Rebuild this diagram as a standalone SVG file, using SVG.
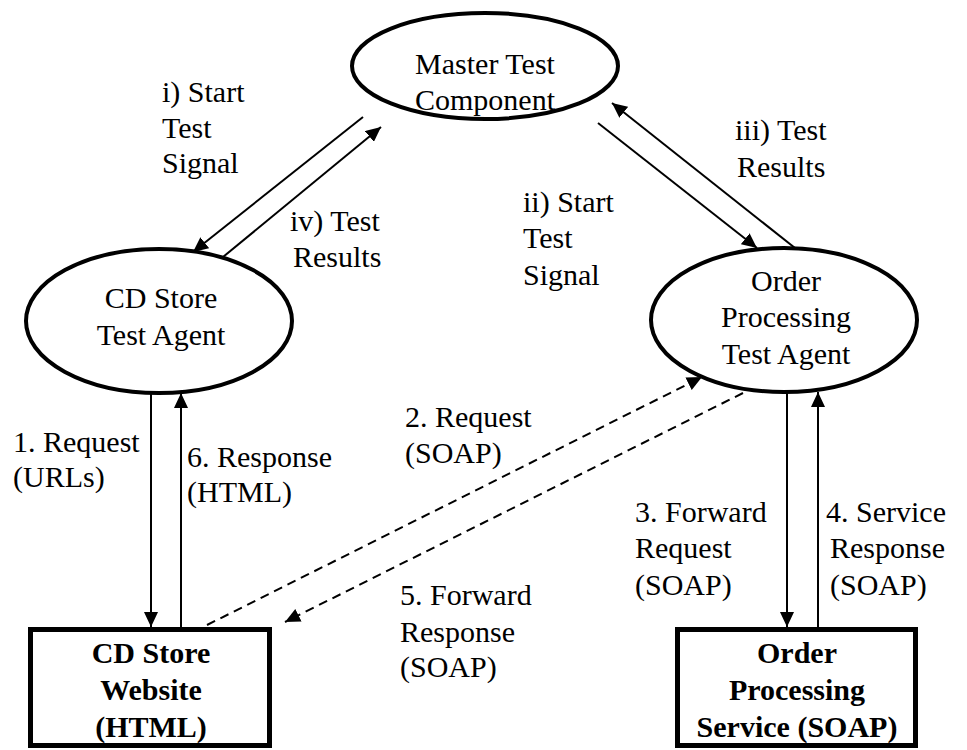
<svg xmlns="http://www.w3.org/2000/svg" width="967" height="750" viewBox="0 0 967 750">
<style>
text{font-family:"Liberation Serif","DejaVu Serif","Noto Serif",serif;font-size:30px;fill:#000}
.b{font-weight:bold}
.c{text-anchor:middle}
.ell{fill:#fff;stroke:#000;stroke-width:4}
.box{fill:#fff;stroke:#000;stroke-width:5}
.ln{stroke:#000;stroke-width:2;fill:none;marker-end:url(#ah)}
.dash{stroke-dasharray:9 6}
</style>
<defs>
<marker id="ah" markerUnits="userSpaceOnUse" markerWidth="16" markerHeight="14" refX="15" refY="7" orient="auto">
<path d="M0,0 L15,7 L0,14 z" fill="#000"/>
</marker>
</defs>
<rect width="967" height="750" fill="#fff"/>
<g id="connectors">
<line class="ln" x1="363" y1="117" x2="193" y2="252"/>
<line class="ln" x1="223" y1="257" x2="381" y2="127"/>
<line class="ln" x1="598" y1="123" x2="757" y2="248"/>
<line class="ln" x1="795" y1="248" x2="612" y2="103"/>
<line class="ln" x1="151" y1="393" x2="151" y2="627"/>
<line class="ln" x1="181" y1="627" x2="181" y2="393"/>
<line class="ln" x1="787" y1="393" x2="787" y2="627"/>
<line class="ln" x1="818" y1="627" x2="818" y2="392"/>
<line class="ln dash" x1="207" y1="625" x2="702" y2="377"/>
<line class="ln dash" x1="743" y1="393" x2="285" y2="622"/>
</g>
<g id="master">
<ellipse class="ell" cx="485" cy="66" rx="133" ry="53"/>
<text class="c" x="485" y="74">Master Test</text>
<text class="c" x="485" y="110">Component</text>
</g>
<g id="cd-agent">
<ellipse class="ell" cx="159" cy="321" rx="133" ry="72"/>
<text class="c" x="161" y="308">CD Store</text>
<text class="c" x="161" y="345">Test Agent</text>
</g>
<g id="op-agent">
<ellipse class="ell" cx="784" cy="320" rx="133" ry="72"/>
<text class="c" x="786" y="291">Order</text>
<text class="c" x="786" y="327">Processing</text>
<text class="c" x="786" y="364">Test Agent</text>
</g>
<g id="cd-website">
<rect class="box" x="30.5" y="629.5" width="239" height="116"/>
<text class="c b" x="151" y="663">CD Store</text>
<text class="c b" x="151" y="700">Website</text>
<text class="c b" x="151" y="737">(HTML)</text>
</g>
<g id="op-service">
<rect class="box" x="677.5" y="629.5" width="238" height="116"/>
<text class="c b" x="797" y="663">Order</text>
<text class="c b" x="797" y="700">Processing</text>
<text class="c b" x="797" y="737">Service (SOAP)</text>
</g>
<g id="labels">
<text x="162" y="102">i) Start</text>
<text x="162" y="138">Test</text>
<text x="162" y="173">Signal</text>
<text x="290" y="231">iv) Test</text>
<text x="293" y="267">Results</text>
<text x="523" y="212">ii) Start</text>
<text x="523" y="248">Test</text>
<text x="523" y="285">Signal</text>
<text x="735" y="140">iii) Test</text>
<text x="737" y="177">Results</text>
<text x="13" y="452">1. Request</text>
<text x="13" y="487">(URLs)</text>
<text x="187" y="467">6. Response</text>
<text x="187" y="502">(HTML)</text>
<text x="405" y="427">2. Request</text>
<text x="405" y="463">(SOAP)</text>
<text x="400" y="605">5. Forward</text>
<text x="400" y="642">Response</text>
<text x="400" y="677">(SOAP)</text>
<text x="635" y="522">3. Forward</text>
<text x="635" y="558">Request</text>
<text x="635" y="595">(SOAP)</text>
<text x="826" y="522">4. Service</text>
<text x="830" y="558">Response</text>
<text x="830" y="595">(SOAP)</text>
</g>
</svg>
